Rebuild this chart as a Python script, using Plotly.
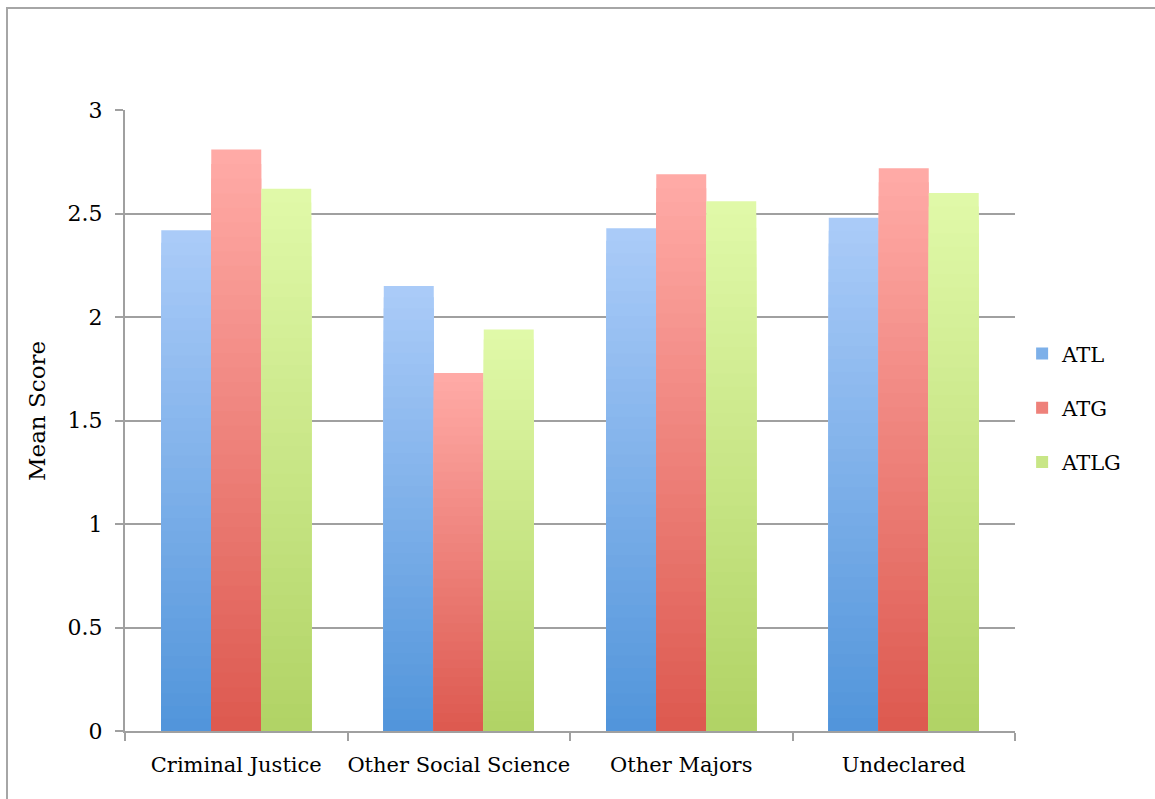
import plotly.graph_objects as go

categories = ["Criminal Justice", "Other Social Science", "Other Majors", "Undeclared"]
series_names = ["ATL", "ATG", "ATLG"]
atl = [2.42, 2.15, 2.43, 2.48]
atg = [2.81, 1.73, 2.69, 2.72]
atlg = [2.62, 1.94, 2.56, 2.60]
y_ticks = [0, 0.5, 1, 1.5, 2, 2.5, 3]
y_tick_labels = ["0", "0.5", "1", "1.5", "2", "2.5", "3"]

values = {"ATL": atl, "ATG": atg, "ATLG": atlg}
# (top colour, bottom colour)
gradients = {
    "ATL": ((170, 203, 248), (80, 148, 218)),
    "ATG": ((255, 170, 166), (220, 88, 78)),
    "ATLG": ((224, 249, 168), (176, 210, 100)),
}

FONT = "DejaVu Serif"
K = 40

def mix(c_top, c_bot, f):
    r = [round(b + (t - b) * f) for t, b in zip(c_top, c_bot)]
    return f"rgb({r[0]},{r[1]},{r[2]})"

fig = go.Figure()
for name in series_names:
    vals = values[name]
    top, bot = gradients[name]
    for k in range(K):
        f = 1 - k / K
        fig.add_trace(go.Bar(
            x=categories, y=[v * f for v in vals],
            offsetgroup=name, legendgroup=name, showlegend=False,
            marker=dict(color=mix(top, bot, f), line=dict(width=0)),
            hoverinfo="skip",
        ))
    fig.add_trace(go.Bar(
        x=categories, y=[None] * len(categories), name=name,
        offsetgroup=name, legendgroup=name, showlegend=True,
        marker=dict(color=mix(top, bot, 0.5), line=dict(width=0)),
    ))

L, R, T, B = 125, 140, 110, 68
W, H = 1155, 799
pw, ph = W - L - R, H - T - B

fig.add_shape(type="rect", xref="paper", yref="paper",
              x0=(7 - L) / pw, x1=(W + 20 - L) / pw,
              y0=-(H + 20 - T - ph) / ph, y1=1 + (T - 8) / ph,
              line=dict(color="#a6a6a6", width=2), fillcolor="rgba(0,0,0,0)", layer="below")

fig.add_annotation(text="Mean Score", xref="paper", yref="paper",
                   x=(37 - L) / pw, y=(H - B - 411) / ph, textangle=-90,
                   showarrow=False, xanchor="center", yanchor="middle",
                   font=dict(family=FONT, size=23, color="black"))

fig.update_layout(
    width=W, height=H,
    margin=dict(l=L, r=R, t=T, b=B, autoexpand=False),
    paper_bgcolor="white", plot_bgcolor="white",
    barmode="group", bargap=0.326, bargroupgap=0,
    font=dict(family=FONT, size=21, color="black"),
    legend=dict(x=1.008, y=0.6405, xanchor="left", yanchor="top",
                font=dict(family=FONT, size=21), tracegroupgap=24,
                traceorder="grouped", itemwidth=30),
    xaxis=dict(showline=True, linecolor="#a0a0a0", linewidth=2, automargin=False,
               ticks="outside", tickson="boundaries", ticklen=8, tickcolor="#a0a0a0", tickwidth=2,
               tickfont=dict(family=FONT, size=21), tickangle=0, showgrid=False, ticklabelstandoff=14),
    yaxis=dict(range=[0, 3.001], tickvals=y_ticks, ticktext=y_tick_labels, automargin=False,
               showline=True, linecolor="#a0a0a0", linewidth=2,
               ticks="outside", ticklen=8, tickcolor="#a0a0a0", tickwidth=2,
               showgrid=True, gridcolor="#a0a0a0", gridwidth=1.5,
               zeroline=False, ticklabelstandoff=8,
               tickfont=dict(family=FONT, size=22)),
)

fig.write_html("out.html")
